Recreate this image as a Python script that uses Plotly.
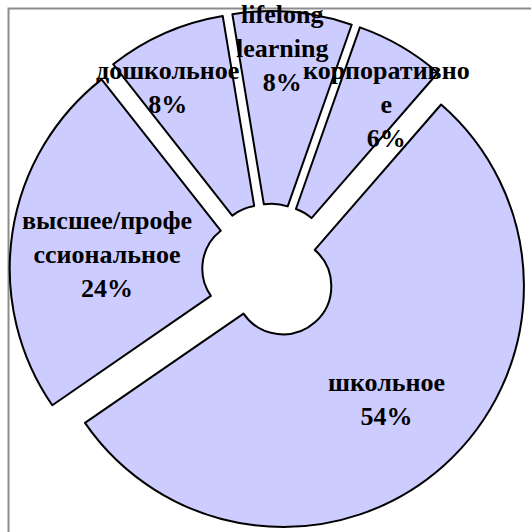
import plotly.graph_objects as go

# ---- data ----
categories = ["школьное", "высшее/профессиональное", "дошкольное", "lifelong learning", "корпоративное"]
values = [54, 24, 8, 8, 6]
label_lines = ["школьное", "высшее/профе<br>ссиональное", "дошкольное", "lifelong<br>learning", "корпоративно<br>е"]

# ---- layout / style ----
W, H = 531, 532
PULL = 0.082
FILL = "#ccccff"
FONT = "Liberation Serif"
label_px = [(386, 399), (107, 254), (167, 87), (282, 48), (387, 104)]  # label box centres (px)

fig = go.Figure()
fig.add_trace(go.Pie(
    labels=categories,
    values=values,
    sort=False,
    direction="clockwise",
    rotation=41,
    hole=0.2,
    pull=[PULL] * len(values),
    marker=dict(colors=[FILL] * len(values), line=dict(color="black", width=2)),
    textinfo="none",
    hoverinfo="label+percent",
    showlegend=False,
    domain=dict(x=[9 / W, 1.0], y=[0.0, 1 - 11 / H]),
))

total = sum(values)
annotations = []
for txt, v, (px, py) in zip(label_lines, values, label_px):
    pct = round(100 * v / total)
    annotations.append(dict(
        x=px / W, y=1 - py / H, xref="paper", yref="paper",
        text=f"<b>{txt}<br>{pct}%</b>", showarrow=False,
        xanchor="center", yanchor="middle", align="center",
        font=dict(family=FONT, size=26, color="black"),
    ))

fig.update_layout(
    width=W, height=H,
    margin=dict(l=0, r=0, t=0, b=0),
    paper_bgcolor="white", plot_bgcolor="white",
    annotations=annotations,
    shapes=[dict(type="rect", xref="paper", yref="paper",
                 x0=8.5 / W, y0=-0.2, x1=1.2, y1=1 - 8.5 / H,
                 line=dict(color="#8c8c8c", width=2), fillcolor="rgba(0,0,0,0)", layer="below")],
)

fig.write_html("out.html", config={"displayModeBar": False},
               post_script="document.body.style.margin='0';document.body.style.overflow='hidden';")
